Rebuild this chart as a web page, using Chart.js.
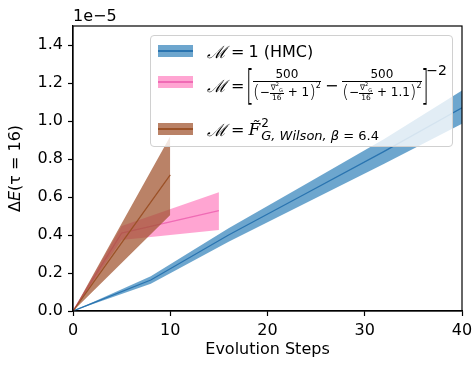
<!DOCTYPE html>
<html>
<head>
<meta charset="utf-8">
<script src="https://cdn.jsdelivr.net/npm/chart.js@4.4.1/dist/chart.umd.min.js"></script>
<style>
  html, body { margin:0; padding:0; background:#fff; }
  #wrap { position:relative; width:474px; height:365px; font-family:"DejaVu Sans", sans-serif; color:#000; }
  canvas { position:absolute; left:0; top:0; }
  #offset { position:absolute; left:73px; top:6px; font-size:16px; line-height:19px; }
  #legend { position:absolute; left:150px; top:35px; width:303px; height:112px; box-sizing:border-box;
            background:rgba(255,255,255,0.8); border:1px solid #d0d0d0; border-radius:4px; }
  .patch { position:absolute; left:7px; width:35px; height:12px; }
  .patch i { position:absolute; left:0; right:0; top:5px; height:1.5px; }
  .row { position:absolute; left:56px; white-space:nowrap; display:flex; align-items:center; }
  .M { font-family:"DejaVu Serif", serif; font-style:italic; font-size:17px; }
  .eq { font-size:16px; margin:0 4px; }
  .frac { display:inline-flex; flex-direction:column; align-items:center; vertical-align:middle; }
  .frac > .n { border-bottom:1px solid #000; padding:0 1px; line-height:1.05; }
  .frac > .d { line-height:1.05; }
  .small { font-size:12px; }
  .tiny { font-size:7.5px; }
  .par { font-size:17px; font-weight:200; line-height:1; }
</style>
</head>
<body>
<div id="wrap">
  <canvas id="c" width="474" height="365"></canvas>
  <div id="offset">1e−5</div>
  <div id="legend">
    <div class="patch" style="top:9px;background:rgba(31,119,180,0.65)"><i style="background:#2a74b0"></i></div>
    <div class="patch" style="top:40px;background:rgba(255,105,180,0.6)"><i style="background:#f06bb5"></i></div>
    <div class="patch" style="top:87px;background:rgba(160,82,45,0.72)"><i style="background:#9c5228"></i></div>

    <div class="row" style="top:4px;height:22px;">
      <span class="M">ℳ</span><span class="eq">=</span><span style="font-size:16px">1 (HMC)</span>
    </div>

    <div class="row" style="top:26px;height:46px;">
      <span class="M">ℳ</span><span class="eq">=</span>
      <span style="font-size:40px;font-weight:200;line-height:1;transform:scaleX(0.5);display:inline-block;margin:0 -5px 0 -6px;">[</span>
      <span class="frac small">
        <span class="n" style="border:none;padding-bottom:1px;">500</span>
        <span style="border-top:1px solid #000;width:100%;height:0"></span>
        <span class="d" style="display:flex;align-items:center;"><span class="par">(</span>−<span class="frac tiny"><span class="n">∇<sup style="font-size:5px">2</sup><sub style="font-size:5px">G</sub></span><span class="d">16</span></span>&nbsp;+ 1<span class="par">)</span><sup style="font-size:8px;align-self:flex-start;">2</sup></span>
      </span>
      <span style="font-size:16px;margin:0 4px;">−</span>
      <span class="frac small">
        <span class="n" style="border:none;padding-bottom:1px;">500</span>
        <span style="border-top:1px solid #000;width:100%;height:0"></span>
        <span class="d" style="display:flex;align-items:center;"><span class="par">(</span>−<span class="frac tiny"><span class="n">∇<sup style="font-size:5px">2</sup><sub style="font-size:5px">G</sub></span><span class="d">16</span></span>&nbsp;+ 1.1<span class="par">)</span><sup style="font-size:8px;align-self:flex-start;">2</sup></span>
      </span>
      <span style="font-size:40px;font-weight:200;line-height:1;transform:scaleX(0.5);display:inline-block;margin:0 -6px 0 -5px;">]</span>
      <span style="font-size:14px;align-self:flex-start;margin-top:0px;">−2</span>
    </div>

    <div class="row" style="top:79px;height:28px;">
      <span class="M">ℳ</span><span class="eq">=</span>
      <span style="font-family:'DejaVu Serif',serif;font-style:italic;font-size:17px;">F̃</span>
      <span style="display:inline-flex;flex-direction:column;line-height:1;margin-left:1px;">
        <span style="font-size:12px;margin-bottom:0px;">2</span>
        <span style="font-size:13px;font-style:italic;">G, Wilson, β<span style="font-style:normal"> = 6.4</span></span>
      </span>
    </div>
  </div>
</div>
<script>
// values in units of 1e-5
const blueSteps = [0, 8, 16, 24, 32, 40];
const blueMean  = [0, 0.163, 0.40, 0.62, 0.84, 1.07];
const blueLow   = [0, 0.143, 0.365, 0.57, 0.775, 0.985];
const blueHigh  = [0, 0.183, 0.435, 0.67, 0.905, 1.16];

const pinkSteps = [0, 5, 15];
const pinkMean  = [0, 0.41, 0.528];
const pinkLow   = [0, 0.374, 0.426];
const pinkHigh  = [0, 0.447, 0.625];

const brownSteps = [0, 5, 10];
const brownMean  = [0, 0.358, 0.716];
const brownLow   = [0, 0.253, 0.505];
const brownHigh  = [0, 0.46, 0.92];

const xTicks = [0, 10, 20, 30, 40];
const yTicks = [0, 0.2, 0.4, 0.6, 0.8, 1.0, 1.2, 1.4];

const pts = (xs, ys) => xs.map((x, i) => ({x: x, y: ys[i]}));
const base = {pointRadius: 0, tension: 0, borderWidth: 0};

const datasets = [
  Object.assign({}, base, {data: pts(blueSteps, blueLow), fill: false, order: 6}),
  Object.assign({}, base, {data: pts(blueSteps, blueHigh), fill: 0, backgroundColor: 'rgba(31,119,180,0.65)', order: 6}),
  Object.assign({}, base, {data: pts(blueSteps, blueMean), fill: false, borderColor: '#2a74b0', borderWidth: 1.3, order: 5}),
  Object.assign({}, base, {data: pts(pinkSteps, pinkLow), fill: false, order: 4}),
  Object.assign({}, base, {data: pts(pinkSteps, pinkHigh), fill: 3, backgroundColor: 'rgba(255,105,180,0.6)', order: 4}),
  Object.assign({}, base, {data: pts(pinkSteps, pinkMean), fill: false, borderColor: '#f06bb5', borderWidth: 1.3, order: 3}),
  Object.assign({}, base, {data: pts(brownSteps, brownLow), fill: false, order: 2}),
  Object.assign({}, base, {data: pts(brownSteps, brownHigh), fill: 6, backgroundColor: 'rgba(160,82,45,0.72)', order: 2}),
  Object.assign({}, base, {data: pts(brownSteps, brownMean), fill: false, borderColor: '#9c5228', borderWidth: 1.3, order: 1})
];

const frame = {
  id: 'frame',
  afterDraw(chart) {
    const a = chart.chartArea, ctx = chart.ctx;
    ctx.save();
    ctx.strokeStyle = '#000';
    ctx.lineWidth = 1.2;
    ctx.strokeRect(a.left, a.top, a.right - a.left, a.bottom - a.top);
    // y-axis title with italic E
    const parts = [['Δ', 'normal'], ['E', 'italic'], ['(τ = 16)', 'normal']];
    let total = 0;
    parts.forEach(p => { ctx.font = p[1] + ' 16px "DejaVu Sans"'; total += ctx.measureText(p[0]).width; });
    ctx.translate(16, (a.top + a.bottom) / 2);
    ctx.rotate(-Math.PI / 2);
    ctx.fillStyle = '#000';
    ctx.textBaseline = 'middle';
    let x = -total / 2;
    parts.forEach(p => { ctx.font = p[1] + ' 16px "DejaVu Sans"'; ctx.fillText(p[0], x, 0); x += ctx.measureText(p[0]).width; });
    ctx.restore();
  }
};

const tickFont = {family: 'DejaVu Sans', size: 16};
new Chart(document.getElementById('c'), {
  type: 'line',
  data: {datasets: datasets},
  options: {
    responsive: false,
    animation: false,
    events: [],
    layout: {padding: {left: 0, top: 26, right: 12, bottom: 0}},
    plugins: {legend: {display: false}, tooltip: {enabled: false}},
    scales: {
      x: {
        type: 'linear', min: 0, max: 40,
        afterBuildTicks: s => { s.ticks = xTicks.map(v => ({value: v})); },
        afterFit: s => { s.height = 54; s.paddingRight = 0; s.paddingLeft = 0; },
        ticks: {font: tickFont, color: '#000', padding: 5, maxRotation: 0, callback: v => String(v)},
        grid: {display: true, drawOnChartArea: false, drawTicks: true, tickLength: 5, color: '#000', tickWidth: 1.2},
        border: {display: true, color: '#000', width: 1.2},
        title: {display: true, text: 'Evolution Steps', font: {family: 'DejaVu Sans', size: 16}, color: '#000', padding: {top: 2, bottom: 6}}
      },
      y: {
        type: 'linear', min: 0, max: 1.5,
        afterBuildTicks: s => { s.ticks = yTicks.map(v => ({value: v})); },
        afterFit: s => { s.width = 73; s.paddingTop = 0; s.paddingBottom = 0; },
        ticks: {font: tickFont, color: '#000', padding: 5, callback: v => v.toFixed(1)},
        grid: {display: true, drawOnChartArea: false, drawTicks: true, tickLength: 5, color: '#000', tickWidth: 1.2},
        border: {display: true, color: '#000', width: 1.2},
        title: {display: false}
      }
    }
  },
  plugins: [frame]
});
</script>
</body>
</html>
